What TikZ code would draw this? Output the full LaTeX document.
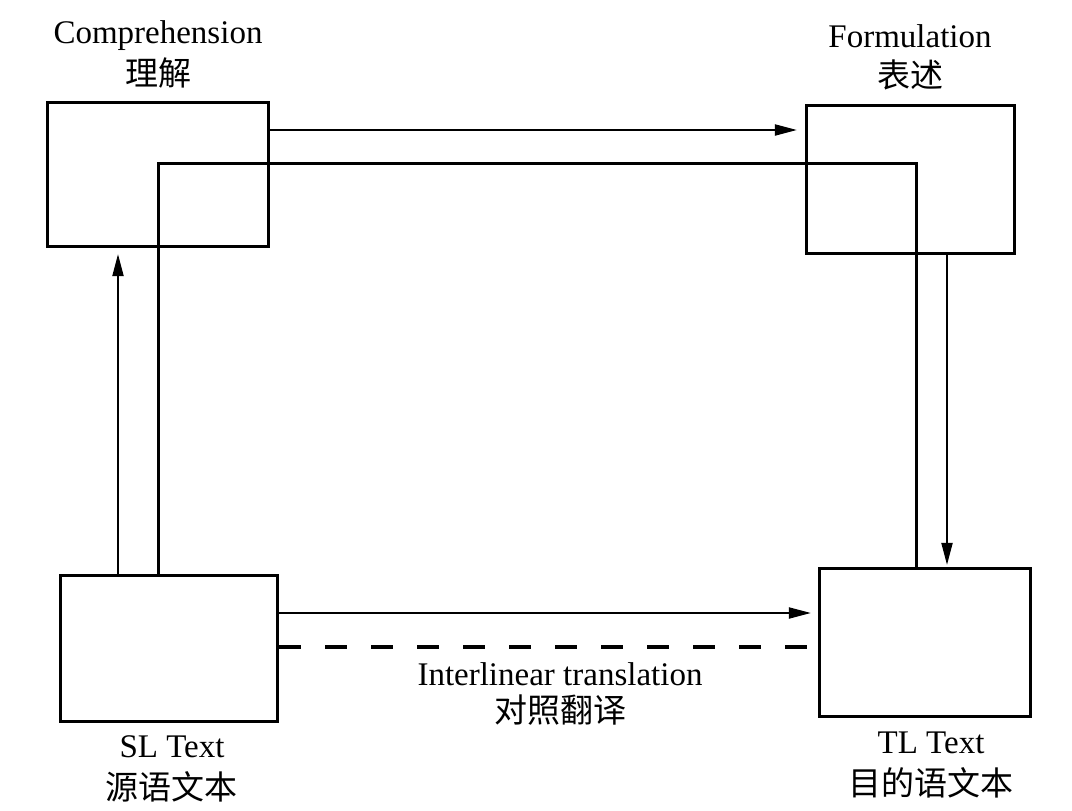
\documentclass[tikz,border=0pt]{standalone}
\usepackage{fontspec}
\setmainfont{Liberation Serif}
\newfontfamily\cjk{Noto Sans CJK SC}
\usepackage{xcolor}
\usepackage{tikz}
\usetikzlibrary{arrows.meta}
\definecolor{InkBlack}{HTML}{000000}
\tikzset{
  stagebox/.style={draw=InkBlack,line width=3.2pt,inner sep=0pt},
  lblEN/.style={font=\fontsize{33}{40}\selectfont,anchor=base,inner sep=0pt},
  lblZH/.style={font=\fontsize{33}{40}\selectfont\cjk,anchor=base,inner sep=0pt},
  edgeA/.style={line width=2pt,draw=InkBlack,-{Triangle[length=22pt,width=11pt]}},
  edgeR/.style={line width=3pt,draw=InkBlack},
  edgeD/.style={line width=3.2pt,draw=InkBlack,dash pattern=on 22pt off 24pt},
}
\begin{document}
\begin{tikzpicture}[x=1pt,y=-1pt]
  \useasboundingbox (0,0) rectangle (1072,811);
  \node[stagebox,minimum width=221pt,minimum height=144pt] (comp) at (158,174.5) {};
  \node[stagebox,minimum width=208pt,minimum height=148pt] (form) at (910.5,179.5) {};
  \node[stagebox,minimum width=217pt,minimum height=146pt] (sl) at (169,648.5) {};
  \node[stagebox,minimum width=211pt,minimum height=148pt] (tl) at (925,642.5) {};
  \node[lblEN] (compen) at (158,43) {Comprehension};
  \node[lblZH] (compzh) at (158,85) {理解};
  \node[lblEN] (formen) at (910,47) {Formulation};
  \node[lblZH] (formzh) at (910,87) {表述};
  \node[lblEN] (slen) at (172,757) {SL Text};
  \node[lblZH] (slzh) at (171,799) {源语文本};
  \node[lblEN] (tlen) at (931,753) {TL Text};
  \node[lblZH] (tlzh) at (931,795) {目的语文本};
  \node[lblEN] (ilen) at (560,685) {Interlinear translation};
  \node[lblZH] (ilzh) at (560,722) {对照翻译};
  \coordinate (jA) at (158,163);
  \coordinate (jB) at (916,163);
  \coordinate (upA) at (118,0);
  \coordinate (dnA) at (947,0);
  \coordinate (topA) at (0,130);
  \coordinate (midA) at (0,613);
  \coordinate (dshA) at (0,647);
  \draw[edgeR] (sl.north -| jA) -- (jA) -- (jB) -- (tl.north -| jB);
  \draw[edgeA,shorten >=6pt] (sl.north -| upA) -- (comp.south -| upA);
  \draw[edgeA,shorten >=2pt] (form.south -| dnA) -- (tl.north -| dnA);
  \draw[edgeA,shorten >=8pt] (comp.east |- topA) -- (form.west |- topA);
  \draw[edgeA,shorten >=7pt] (sl.east |- midA) -- (tl.west |- midA);
  \draw[edgeD] (sl.east |- dshA) -- (tl.west |- dshA);
\end{tikzpicture}
\end{document}
